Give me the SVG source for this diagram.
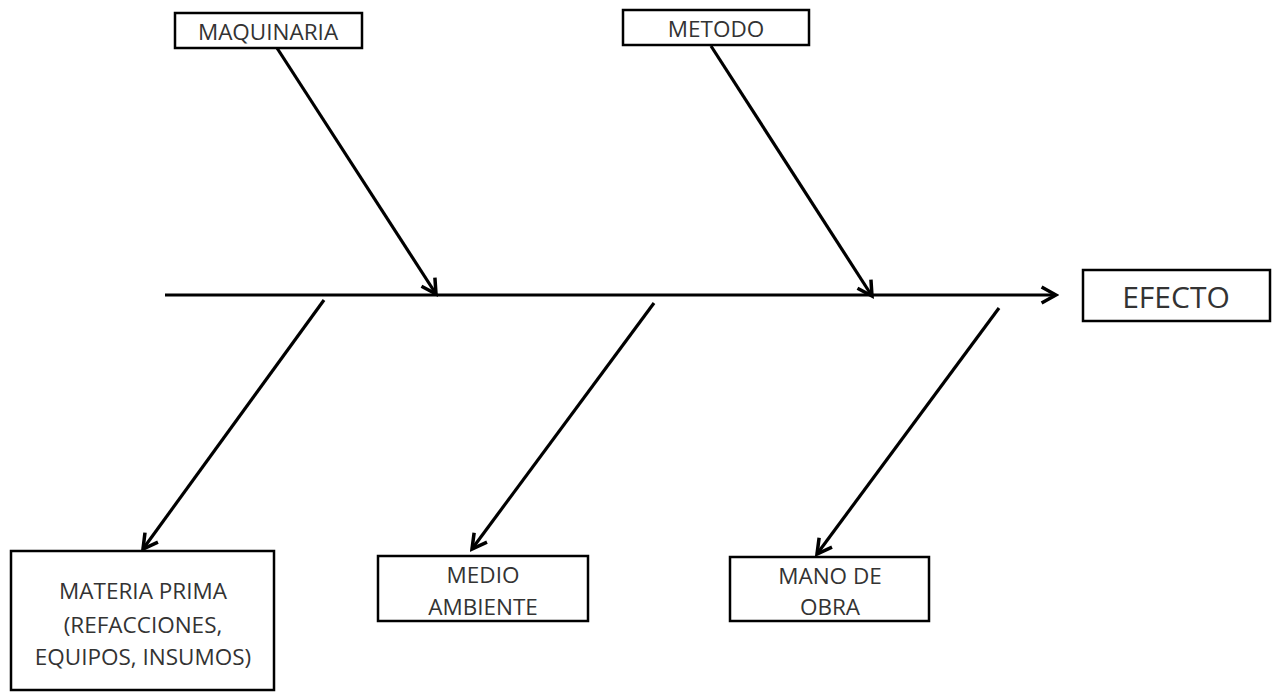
<svg xmlns="http://www.w3.org/2000/svg" width="1276" height="692" viewBox="0 0 1276 692">
<defs>
<style>
.box{fill:#fff;stroke:#000;stroke-width:2.5}
.t{font-family:"Open Sans","Liberation Sans",sans-serif;fill:#333;text-anchor:middle}
.s{font-size:22.5px}
.b{font-size:30px}
.ln{stroke:#000;stroke-width:3.2;fill:none;marker-end:url(#ah)}
</style>
<marker id="ah" viewBox="0 0 12 12" refX="10" refY="6" markerWidth="6" markerHeight="6" orient="auto" markerUnits="strokeWidth">
<path d="M1,1 L10,6 L1,11" fill="none" stroke="#000" stroke-width="2.2"/>
</marker>
</defs>
<rect width="1276" height="692" fill="#fff"/>
<g id="connectors">
<line class="ln" x1="165" y1="295" x2="1056" y2="295"/>
<line class="ln" x1="277" y1="48" x2="436" y2="294"/>
<line class="ln" x1="711" y1="46" x2="872" y2="296"/>
<line class="ln" x1="324" y1="300" x2="143" y2="549"/>
<line class="ln" x1="654" y1="303" x2="472" y2="549"/>
<line class="ln" x1="999" y1="308" x2="817" y2="554"/>
</g>
<g id="maquinaria">
<rect class="box" x="175" y="13" width="187" height="35"/>
<text class="t s" x="268" y="40">MAQUINARIA</text>
</g>
<g id="metodo">
<rect class="box" x="623" y="10" width="186" height="35"/>
<text class="t s" x="716" y="37">METODO</text>
</g>
<g id="efecto">
<rect class="box" x="1083" y="270" width="187" height="51"/>
<text class="t b" x="1176" y="308">EFECTO</text>
</g>
<g id="materia-prima">
<rect class="box" x="11" y="551" width="263" height="139"/>
<text class="t s" x="143" y="599">MATERIA PRIMA</text>
<text class="t s" x="143" y="633">(REFACCIONES,</text>
<text class="t s" x="143" y="665">EQUIPOS, INSUMOS)</text>
</g>
<g id="medio-ambiente">
<rect class="box" x="378" y="556" width="210" height="65"/>
<text class="t s" x="483" y="583">MEDIO</text>
<text class="t s" x="483" y="615">AMBIENTE</text>
</g>
<g id="mano-de-obra">
<rect class="box" x="730" y="557" width="199" height="64"/>
<text class="t s" x="830" y="584">MANO DE</text>
<text class="t s" x="830" y="615">OBRA</text>
</g>
</svg>
